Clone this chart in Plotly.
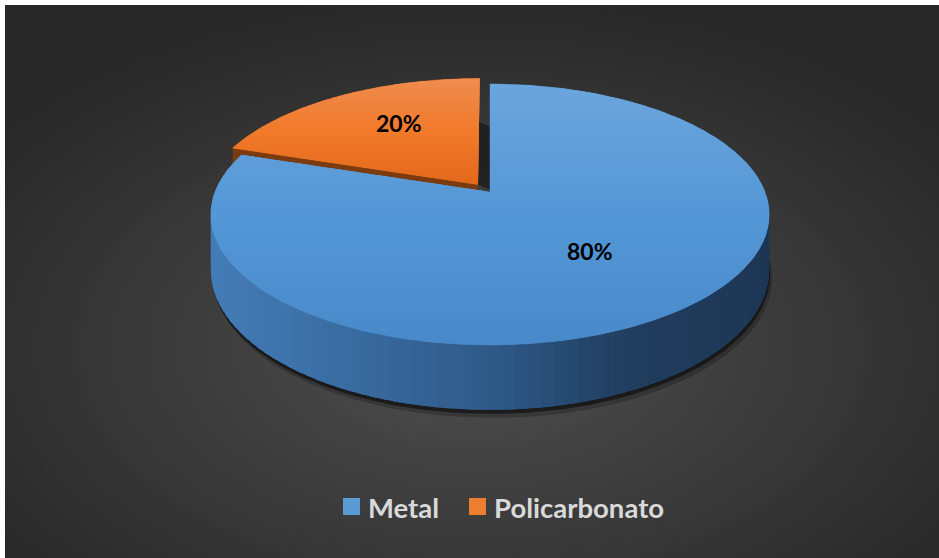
import base64
import numpy as np
import plotly.graph_objects as go

# ---------------- data ----------------
categories = ["Metal", "Policarbonato"]
values = [80, 20]

# ---------------- styles ----------------
top_grad = [((108, 165, 221), (84, 151, 214), (72, 137, 202)),
            ((239, 140, 80), (240, 122, 42), (228, 104, 28))]
face_colors = ["#2a5580", "#7c3b0e"]
legend_colors = ["#5b9bd5", "#ed7d31"]
pulls = [0.0, 0.075]
label_radius = [0.55, 0.6]
label_shift = [(4, 2), (9, 6)]

# projection (perspective-like 3D pie)
CX, CY = 490.0, 192.0
A, B, K, D0 = 275.0, 126.6, 0.172, 53.8
W, H = 939, 558


def proj(u, v, h=0.0):
    u = np.asarray(u, dtype=float)
    v = np.asarray(v, dtype=float)
    w = 1 + K * v
    return CX + A * u / w, CY - B * v / w + h * D0 / w


def poly(fig, xs, ys, color, line_color=None, lw=0.0):
    fig.add_trace(go.Scatter(
        x=list(xs), y=list(ys), mode="lines", fill="toself",
        fillcolor=color, line=dict(color=line_color or color, width=lw),
        hoverinfo="skip", showlegend=False))


def interp(stops, x):
    if x <= stops[0][0]:
        c = stops[0][1]
    elif x >= stops[-1][0]:
        c = stops[-1][1]
    else:
        for (x0, c0), (x1, c1) in zip(stops[:-1], stops[1:]):
            if x0 <= x <= x1:
                f = (x - x0) / (x1 - x0)
                c = tuple(c0[k] + f * (c1[k] - c0[k]) for k in range(3))
                break
    return "rgb(%d,%d,%d)" % tuple(int(round(v)) for v in c)


WALL_STOPS = [(213, (68, 124, 183)), (490, (46, 89, 136)), (620, (33, 62, 95)), (772, (29, 54, 84))]


def clip_half(pts, y0, keep_above):
    out = []
    n = len(pts)
    for k in range(n):
        p, q = pts[k], pts[(k + 1) % n]
        ip = (p[1] >= y0) if keep_above else (p[1] <= y0)
        iq = (q[1] >= y0) if keep_above else (q[1] <= y0)
        if ip:
            out.append(p)
        if ip != iq:
            f = (y0 - p[1]) / (q[1] - p[1])
            out.append((p[0] + f * (q[0] - p[0]), y0))
    return out


fig = go.Figure()

# background gradient via svg
svg = ('<svg xmlns="http://www.w3.org/2000/svg" width="934" height="553" preserveAspectRatio="none">'
       '<defs><radialGradient id="g" cx="50%" cy="62%" r="65%">'
       '<stop offset="0%" stop-color="#4f4f4f"/><stop offset="100%" stop-color="#272727"/>'
       '</radialGradient></defs><rect width="934" height="553" fill="url(#g)"/></svg>')
src = "data:image/svg+xml;base64," + base64.b64encode(svg.encode()).decode()

# slice angles (clockwise from 12 o'clock)
total = float(sum(values))
slices = []
start = 90.0
for i, val in enumerate(values):
    span = 360.0 * val / total
    t0, t1 = start, start - span
    mid = np.radians((t0 + t1) / 2)
    ox, oy = pulls[i] * np.cos(mid), pulls[i] * np.sin(mid)
    slices.append(dict(i=i, t0=t0, t1=t1, ox=ox, oy=oy, mid=mid))
    start = t1

# drop shadow below the front of the pie
tf = np.radians(np.linspace(180, 360, 120))
for (dx, dy, op) in [(3, 8, 0.22), (1, 4, 0.5)]:
    xs2, ys2 = proj(np.cos(tf), np.sin(tf), 1)
    poly(fig, xs2 + dx, ys2 + dy, "rgba(0,0,0,%.2f)" % op)

# draw back slices first
order = sorted(slices, key=lambda s: -np.sin(s["mid"]))
for s in order:
    i, t0, t1, ox, oy = s["i"], s["t0"], s["t1"], s["ox"], s["oy"]
    # cut faces
    for (ta, nd) in [(t0, t0 + 90), (t1, t1 - 90)]:
        if np.sin(np.radians(nd)) < -0.05:
            r = np.radians(ta)
            eu, ev = ox + np.cos(r), oy + np.sin(r)
            xa, ya = proj([ox, eu, eu, ox], [oy, ev, ev, oy], np.array([0, 0, 1, 1]))
            poly(fig, xa, ya, face_colors[i])
    # shadow of pulled slice onto gap
    if pulls[i] > 0:
        r = np.radians(t1)
        ss = np.linspace(0.45, 1.0, 10)
        eu = ox + (1 - ss) * np.cos(r)
        ev = oy + (1 - ss) * np.sin(r)
        xs_, ys_ = proj(eu, ev, 0)
        poly(fig, np.concatenate([xs_, xs_[::-1] + 14]),
             np.concatenate([ys_, ys_[::-1] + 6]), "rgba(25,25,25,0.75)")
    # outer wall (front part)
    tt = np.linspace(t0, t1, 400)
    vis = np.sin(np.radians(tt)) < 0
    if vis.any():
        tv = tt[vis]
        ts = np.radians(np.linspace(tv[0], tv[-1], 200))
        u, v = ox + np.cos(ts), oy + np.sin(ts)
        x1, y1 = proj(u, v, 0)
        x2, y2 = proj(u[::-1], v[::-1], 1)
        poly(fig, np.concatenate([x1, x2]), np.concatenate([y1, y2]), "rgb(40,76,116)")
        edges = np.linspace(tv[0], tv[-1], 81)
        step = edges[1] - edges[0]
        for a, b in zip(edges[:-1], edges[1:]):
            bb = b + 0.6 * step if b != edges[-1] else b
            ts = np.radians(np.linspace(a, bb, 6))
            u = ox + np.cos(ts)
            v = oy + np.sin(ts)
            x1, y1 = proj(u, v, 0)
            x2, y2 = proj(u[::-1], v[::-1], 1)
            col = interp(WALL_STOPS, float(np.mean(x1)))
            poly(fig, np.concatenate([x1, x2]), np.concatenate([y1, y2]), col)
    # top face with vertical gradient (bands)
    ts = np.radians(np.linspace(t0, t1, 240))
    u = np.concatenate([[ox], ox + np.cos(ts)])
    v = np.concatenate([[oy], oy + np.sin(ts)])
    xs, ys = proj(u, v, 0)
    pts = list(zip(xs, ys))
    ymin, ymax = float(np.min(ys)), float(np.max(ys))
    g = top_grad[i]
    gstops = [(ymin, g[0]), ((ymin + ymax) / 2, g[1]), (ymax, g[2])]
    midc = interp(gstops, (ymin + ymax) / 2)
    poly(fig, xs, ys, midc, midc, 0.5)
    nb = 40
    bedges = np.linspace(ymin, ymax, nb + 1)
    for a, b in zip(bedges[:-1], bedges[1:]):
        bb = min(ymax, b + 0.5 * (b - a))
        cp = clip_half(pts, a, True)
        if len(cp) < 3:
            continue
        cp = clip_half(cp, bb, False)
        if len(cp) < 3:
            continue
        cx_, cy_ = zip(*cp)
        poly(fig, cx_, cy_, interp(gstops, (a + b) / 2))

# labels
annotations = []
for s in slices:
    i = s["i"]
    r = label_radius[i]
    lx, ly = proj(s["ox"] + r * np.cos(s["mid"]), s["oy"] + r * np.sin(s["mid"]), 0)
    annotations.append(dict(
        x=float(lx), y=float(ly), xref="x", yref="y", showarrow=False,
        text="%d%%" % round(100 * values[i] / total),
        xshift=label_shift[i][0], yshift=label_shift[i][1],
        font=dict(family="Lato", size=23, color="black", weight="bold")))

# legend (manual)
shapes = []
leg_x = [343, 469]
for i, name in enumerate(categories):
    shapes.append(dict(type="rect", xref="x", yref="y", x0=leg_x[i], x1=leg_x[i] + 17,
                       y0=498, y1=515, fillcolor=legend_colors[i], line=dict(width=0)))
    annotations.append(dict(x=leg_x[i] + 23, y=507, xref="x", yref="y", showarrow=False,
                            xanchor="left", yanchor="middle", text=name,
                            font=dict(family="Lato", size=27.5, color="#d9d9d9", weight="bold")))

fig.update_layout(
    width=W, height=H, margin=dict(l=0, r=0, t=0, b=0),
    paper_bgcolor="white", plot_bgcolor="rgba(0,0,0,0)",
    xaxis=dict(range=[0, W], visible=False, fixedrange=True),
    yaxis=dict(range=[H, 0], visible=False, fixedrange=True),
    showlegend=False, annotations=annotations, shapes=shapes,
    images=[dict(source=src, xref="paper", yref="paper", x=5 / W, y=1 - 5 / H,
                 sizex=(W - 5) / W, sizey=(H - 5) / H, xanchor="left", yanchor="top",
                 sizing="stretch", layer="below")],
)

fig.write_html("out.html", config={"displayModeBar": False},
               post_script="document.body.style.margin='0';document.body.style.overflow='hidden';")
